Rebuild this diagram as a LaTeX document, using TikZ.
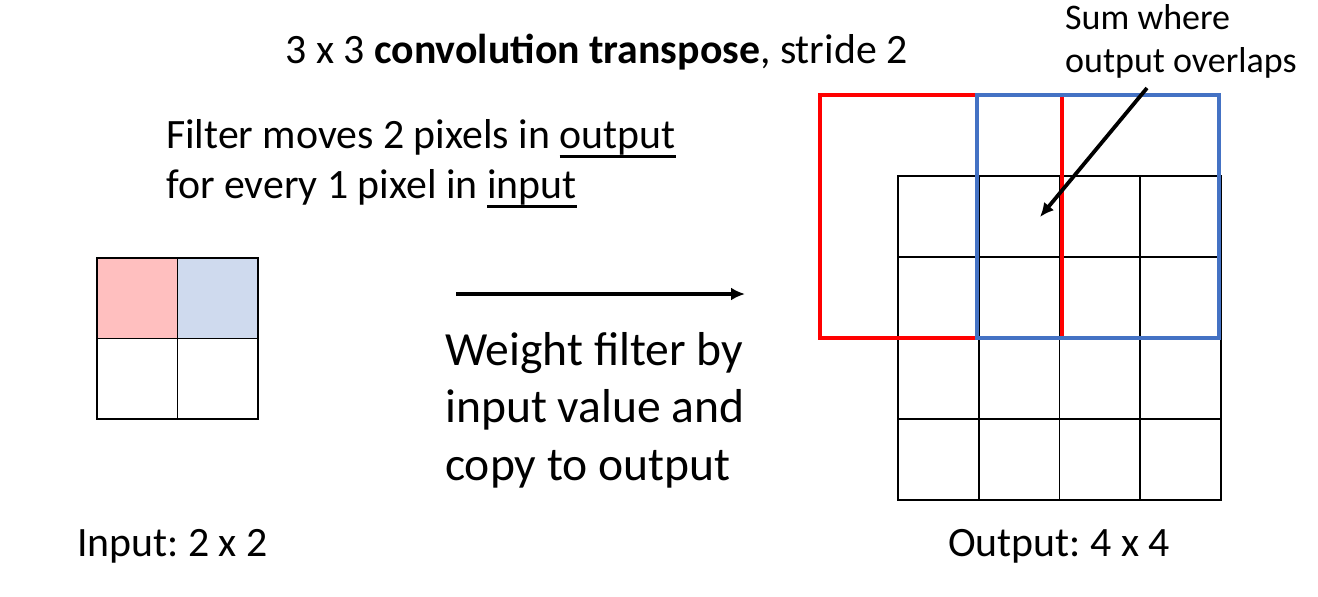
\documentclass[tikz,border=0pt]{standalone}
\usepackage{fontspec}
\setmainfont{Carlito}
\usetikzlibrary{arrows.meta}
\frenchspacing
\definecolor{fred}{HTML}{FF0000}
\definecolor{fblue}{HTML}{4472C4}
\definecolor{pinkfill}{HTML}{FFBFBF}
\definecolor{bluefill}{HTML}{CFDAEE}
\newcommand{\myul}[1]{\leavevmode\vtop{\hbox{#1}\kern0.6pt\hrule height 2.8pt}}
\tikzset{
  txt/.style={inner sep=0pt, anchor=base west, font=\fontsize{41.8}{50}\selectfont},
  bigtxt/.style={inner sep=0pt, anchor=base west, font=\fontsize{47.6}{57}\selectfont},
  smalltxt/.style={inner sep=0pt, anchor=base west, font=\fontsize{36}{42}\selectfont},
  cell/.style={draw=black, line width=1.8pt},
  redbox/.style={draw=fred, line width=4.2pt},
  bluebox/.style={draw=fblue, line width=4.2pt},
  arr/.style={line width=3.8pt, -{Latex[length=14pt,width=13pt]}},
}
\begin{document}
\begin{tikzpicture}[x=1pt,y=-1pt]
\useasboundingbox (0,0) rectangle (1318,597);
% title
\node[txt, anchor=base] (title) at (596.5,63) {3 x 3 \textbf{convolution transpose}, stride 2};
% filter text
\node[txt] (f1) at (166,148) {Filter moves 2 pixels in \myul{output}};
\node[txt] (f2) at (166,198) {for every 1 pixel in \myul{input}};
% input grid
\fill[pinkfill] (97,258) rectangle (177.5,338.5);
\fill[bluefill] (177.5,258) rectangle (258,338.5);
\foreach \i in {0,1}{
  \foreach \j in {0,1}{
    \draw[cell] ({97+80.5*\i},{258+80.5*\j}) rectangle ++(80.5,80.5);
  }
}
% arrow
\coordinate (as) at (456,294);
\coordinate (ae) at (745,294);
\draw[arr] (as) -- (ae);
% weight text
\node[bigtxt] (w1) at (445,365) {Weight filter by};
\node[bigtxt] (w2) at (445,422) {input value and};
\node[bigtxt] (w3) at (445,480) {copy to output};
% output grid
\foreach \i in {0,...,3}{
  \foreach \j in {0,...,3}{
    \draw[cell] ({898+80.75*\i},{176+81*\j}) rectangle ++(80.75,81);
  }
}
\draw[redbox] (820,95) rectangle (1062,338);
\draw[bluebox] (977,95) rectangle (1219,338);
% sum text
\node[smalltxt] (s1) at (1065,29) {Sum where};
\node[smalltxt] (s2) at (1065,72) {output overlaps};
\coordinate (ds) at (1147,88);
\coordinate (de) at (1040,217);
\draw[arr] (ds) -- (de);
% labels
\node[txt] (inlab) at (77,556) {Input: 2 x 2};
\node[txt] (outlab) at (948,556) {Output: 4 x 4};
\end{tikzpicture}
\end{document}
